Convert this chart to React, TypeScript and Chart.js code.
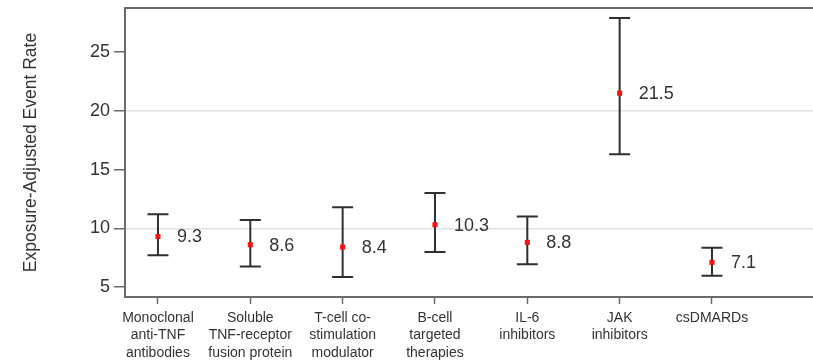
import React, { useEffect, useRef } from "react";
import { Chart, registerables } from "chart.js";

Chart.register(...registerables);

// Treatment classes shown along the x axis (multi-line labels)
const categories: string[][] = [
  ["Monoclonal", "anti-TNF", "antibodies"],
  ["Soluble", "TNF-receptor", "fusion protein"],
  ["T-cell co-", "stimulation", "modulator"],
  ["B-cell", "targeted", "therapies"],
  ["IL-6", "inhibitors"],
  ["JAK", "inhibitors"],
  ["csDMARDs"],
];

// Point estimates and confidence limits
const rates: number[] = [9.3, 8.6, 8.4, 10.3, 8.8, 21.5, 7.1];
const upper: number[] = [11.2, 10.7, 11.8, 13.0, 11.0, 27.9, 8.35];
const lower: number[] = [7.7, 6.75, 5.85, 7.98, 6.93, 16.3, 5.95];

const yTicks: number[] = [5, 10, 15, 20, 25];
const gridValues: number[] = [10, 20];

const FONT = "'Liberation Sans', Arial, Helvetica, sans-serif";
const TEXT = "#333333";
const AXIS = "#6a6a6a";

const errorBarPlugin = {
  id: "errorBars",
  beforeDatasetsDraw(chart: any) {
    const { ctx, scales } = chart;
    const xs = scales.x;
    const ys = scales.y;
    ctx.save();
    ctx.strokeStyle = "#2f2f2f";
    ctx.lineWidth = 2;
    rates.forEach((_, i) => {
      const x = xs.getPixelForValue(i);
      const yHi = ys.getPixelForValue(upper[i]);
      const yLo = ys.getPixelForValue(lower[i]);
      const half = 10.5;
      ctx.beginPath();
      ctx.moveTo(x, yHi);
      ctx.lineTo(x, yLo);
      ctx.moveTo(x - half, yHi);
      ctx.lineTo(x + half, yHi);
      ctx.moveTo(x - half, yLo);
      ctx.lineTo(x + half, yLo);
      ctx.stroke();
    });
    ctx.restore();
  },
  afterDatasetsDraw(chart: any) {
    const { ctx, scales, chartArea } = chart;
    const xs = scales.x;
    const ys = scales.y;
    ctx.save();
    ctx.fillStyle = TEXT;
    ctx.font = `18px ${FONT}`;
    ctx.textAlign = "left";
    ctx.textBaseline = "middle";
    rates.forEach((v, i) => {
      ctx.fillText(v.toFixed(1), xs.getPixelForValue(i) + 19, ys.getPixelForValue(v) + 1);
    });
    // top frame line
    ctx.strokeStyle = AXIS;
    ctx.lineWidth = 2;
    ctx.beginPath();
    ctx.moveTo(chartArea.left, chartArea.top);
    ctx.lineTo(chartArea.right, chartArea.top);
    ctx.stroke();
    ctx.restore();
  },
};

export default function App() {
  const canvasRef = useRef<HTMLCanvasElement | null>(null);

  useEffect(() => {
    if (!canvasRef.current) return;
    const chart = new Chart(canvasRef.current, {
      type: "scatter",
      data: {
        datasets: [
          {
            data: rates.map((v, i) => ({ x: i, y: v })),
            pointStyle: "rect",
            pointRadius: 3.6,
            backgroundColor: "#ff1010",
            borderColor: "#ff1010",
            borderWidth: 0,
          },
        ],
      },
      options: {
        animation: false,
        responsive: false,
        maintainAspectRatio: false,
        layout: { autoPadding: false, padding: { top: 8, left: 0, right: 0, bottom: 0 } },
        plugins: {
          legend: { display: false },
          tooltip: { enabled: false },
        },
        scales: {
          x: {
            type: "linear",
            min: -0.357,
            max: 7.094,
            afterBuildTicks: (scale: any) => {
              scale.ticks = categories.map((_, i) => ({ value: i }));
            },
            afterFit: (scale: any) => {
              scale.height = 67;
              scale.paddingLeft = 0;
              scale.paddingRight = 0;
            },
            ticks: {
              autoSkip: false,
              maxRotation: 0,
              padding: 6,
              color: TEXT,
              font: { family: FONT, size: 14, lineHeight: 1.22 },
              callback: (value: any) => categories[Math.round(value)] ?? "",
            },
            grid: {
              drawOnChartArea: false,
              drawTicks: true,
              tickLength: 7,
              tickColor: AXIS,
              tickWidth: 1.5,
            },
            border: { display: true, color: AXIS, width: 2 },
          },
          y: {
            type: "linear",
            min: 4.15,
            max: 28.75,
            afterBuildTicks: (scale: any) => {
              scale.ticks = yTicks.map((v) => ({ value: v }));
            },
            afterFit: (scale: any) => {
              scale.width = 125;
              scale.paddingTop = 0;
              scale.paddingBottom = 0;
            },
            ticks: {
              padding: 4,
              color: TEXT,
              font: { family: FONT, size: 18 },
              callback: (value: any) => String(value),
            },
            grid: {
              drawTicks: true,
              tickLength: 11,
              lineWidth: 1.5,
              color: (ctx: any) =>
                ctx.tick && gridValues.includes(ctx.tick.value) ? "#e2e2e2" : "rgba(0,0,0,0)",
              tickColor: AXIS,
              tickWidth: 1.5,
            },
            border: { display: true, color: AXIS, width: 2 },
            title: {
              display: true,
              text: "Exposure-Adjusted Event Rate",
              color: TEXT,
              font: { family: FONT, size: 17.5 },
              padding: { top: 20.5, bottom: 0 },
            },
          },
        },
      },
      plugins: [errorBarPlugin],
    });
    return () => chart.destroy();
  }, []);

  return (
    <div style={{ position: "absolute", left: 0, top: 0, width: 813, height: 364, background: "#fff" }}>
      <canvas ref={canvasRef} width={813} height={364} style={{ display: "block" }} />
    </div>
  );
}
